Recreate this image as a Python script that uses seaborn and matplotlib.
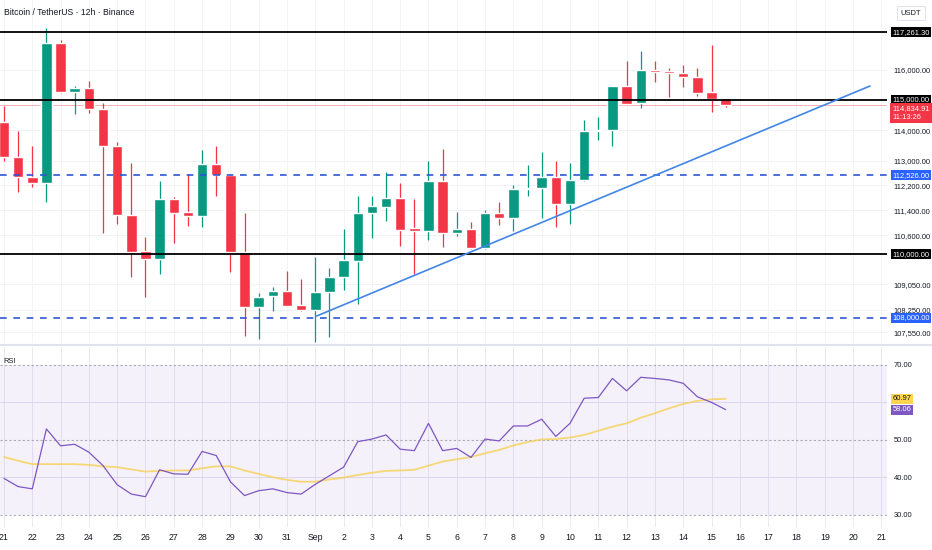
import numpy as np
import pandas as pd
import seaborn as sns
import matplotlib.pyplot as plt
from matplotlib.ticker import FuncFormatter, NullLocator, NullFormatter
from matplotlib.lines import Line2D

# BTC/USDT 12h candles, Aug 21 00:00 -> Sep 15 12:00
opens = [114260, 113140, 112480, 112290, 116900, 115280, 115410, 114690, 113470, 111250,
         110100, 109840, 111750, 111330, 111220, 112910, 112540, 110080, 108330, 108670,
         108830, 108400, 108240, 108800, 109270, 109780, 111300, 111520, 111810, 110830,
         110730, 112330, 110670, 110800, 110180, 111310, 111160, 112070, 112120, 112480,
         111590, 112370, 113970, 114000, 115480, 114890, 116000, 115960, 115910, 115780,
         115260, 115060]
highs = [114800, 113990, 113500, 117400, 117000, 115460, 115630, 114890, 113630, 112920,
         110530, 112350, 111840, 112580, 113350, 113470, 112580, 111320, 108760, 108960,
         109460, 109220, 109900, 109550, 110800, 111850, 111850, 112640, 112290, 111760,
         112980, 113370, 111330, 111010, 111400, 111670, 112220, 112880, 113300, 113000,
         112930, 114330, 114430, 115470, 116300, 116650, 116310, 116050, 116160, 116050,
         116850, 115070]
lows = [112980, 111990, 112150, 111675, 115220, 114540, 114580, 110680, 110970, 109270,
        108660, 109380, 110350, 110890, 110860, 111860, 109420, 107420, 107330, 108200,
        108370, 108210, 107250, 107400, 108870, 108440, 110500, 111050, 110260, 109360,
        110450, 110230, 110570, 110160, 110160, 110920, 110730, 111850, 111160, 110860,
        110970, 112360, 113680, 113500, 114860, 114720, 115590, 115110, 115440, 115140,
        114610, 114760]
closes = [113140, 112480, 112290, 116900, 115280, 115410, 114690, 113470, 111240, 110080,
          109840, 111750, 111300, 111220, 112910, 112540, 110070, 108330, 108650, 108830,
          108380, 108240, 108800, 109270, 109800, 111310, 111530, 111810, 110770, 110740,
          112330, 110670, 110800, 110180, 111310, 111160, 112070, 112110, 112480, 111590,
          112370, 113970, 114020, 115460, 114870, 116000, 115920, 115890, 115780, 115240,
          115030, 114834.91]

rsi = [39.7, 37.5, 36.9, 52.9, 48.4, 48.8, 46.7, 43.1, 38.0, 35.5,
       34.8, 42.0, 40.9, 40.8, 46.9, 45.8, 38.8, 35.1, 36.4, 36.9,
       35.9, 35.5, 38.1, 40.4, 42.7, 49.5, 50.2, 51.3, 47.5, 47.1,
       54.4, 47.1, 47.7, 45.3, 50.2, 49.7, 53.7, 53.7, 55.5, 50.9,
       54.4, 61.1, 61.3, 66.4, 63.1, 66.7, 66.4, 66.0, 65.1, 61.5,
       60.0, 58.06]
rsi_ma = [45.4, 44.4, 43.5, 43.5, 43.5, 43.5, 43.3, 42.9, 42.7, 42.1,
          41.5, 41.7, 41.8, 41.8, 42.4, 42.9, 42.9, 41.8, 40.9, 40.0,
          39.3, 38.8, 38.8, 39.4, 39.9, 40.6, 41.2, 41.7, 41.8, 42.0,
          43.1, 44.2, 44.8, 45.4, 46.4, 47.3, 48.5, 49.4, 50.1, 50.2,
          50.6, 51.3, 52.4, 53.5, 54.4, 55.9, 57.1, 58.4, 59.6, 60.4,
          60.8, 60.97]

day_labels = ['21', '22', '23', '24', '25', '26', '27', '28', '29', '30', '31', 'Sep',
              '2', '3', '4', '5', '6', '7', '8', '9', '10', '11', '12', '13', '14', '15',
              '16', '17', '18', '19', '20', '21']
price_ticks = [116000, 114000, 113000, 112200, 111400, 110600, 109050, 108250, 107550]
rsi_ticks = [30, 40, 50, 70]

black_levels = [117261.30, 115000.00, 110000.00]
blue_levels = [112526.00, 108000.00]
last_price = 114834.91
countdown = '11:13:26'
trend_x = [22.1, 61.2]
trend_y = [108054, 115465]

GREEN = '#089981'
RED = '#F23645'
BLUE = '#2f55d4'
PURPLE = '#7E57C2'
YELLOW = '#F7CF4A'
TXT = '#131722'
FS = 5.4

sns.set_style('white')
plt.rcParams['font.family'] = ['Liberation Sans', 'DejaVu Sans']

df = pd.DataFrame({'i': np.arange(len(opens)), 'open': opens, 'high': highs,
                   'low': lows, 'close': closes, 'rsi': rsi, 'ma': rsi_ma})
df['color'] = np.where(df['close'] >= df['open'], GREEN, RED)

fig = plt.figure(figsize=(9.32, 5.5), dpi=100)
ax = fig.add_axes([0.0, 0.3764, 0.9517, 0.6236])
ax2 = fig.add_axes([0.0, 0.0418, 0.9517, 0.3273], sharex=ax)

# ---- price panel
ax.set_yscale('log')
ax.set_ylim(107216, 118365)
ax.set_xlim(-0.28, 62.4)
for t in price_ticks:
    ax.axhline(t, color='#f0f1f4', lw=0.7, zorder=0)
for k in range(0, 63, 2):
    ax.axvline(k, color='#f4f4f7', lw=0.7, zorder=0)
    ax2.axvline(k, color='#ebe8f4', lw=0.7, zorder=0)

ax.vlines(df['i'], df['low'], df['high'], colors=df['color'], lw=0.9, zorder=3)
body = np.maximum((df['close'] - df['open']).abs(), 45)
ax.bar(df['i'], body, bottom=np.minimum(df['open'], df['close']), width=0.74,
       color=df['color'], zorder=4)

ax.axhline(last_price, color=RED, lw=0.6, alpha=0.45, zorder=2)
for lv in black_levels:
    ax.axhline(lv, color='black', lw=1.3, zorder=5)
for lv in blue_levels:
    ax.axhline(lv, color=BLUE, lw=1.2, ls=(0, (4, 4)), zorder=5)
ax.plot(trend_x, trend_y, color='#4286e8', lw=1.2, zorder=6)

ax.yaxis.tick_right()
ax.set_yticks(price_ticks)
ax.yaxis.set_minor_locator(NullLocator())
ax.yaxis.set_minor_formatter(NullFormatter())
ax.yaxis.set_major_formatter(FuncFormatter(lambda v, p: f'{v:,.2f}'))
ax.tick_params(axis='y', length=0, pad=5, labelsize=FS, labelcolor=TXT)
ax.tick_params(axis='x', length=0, labelbottom=False)
for s in ax.spines.values():
    s.set_visible(False)


def tag(a, y, text, fc, tc):
    a.text(1.006, y, text, transform=a.get_yaxis_transform(), ha='left', va='center',
           fontsize=FS, color=tc, clip_on=False, zorder=20,
           bbox=dict(boxstyle='square,pad=0.2', fc=fc, ec='none'))


for lv in black_levels:
    tag(ax, lv, f'{lv:,.2f}', 'black', 'white')
for lv in blue_levels:
    tag(ax, lv, f'{lv:,.2f}', '#2962FF', 'white')
ax.text(1.006, last_price, f'{last_price:,.2f}\n{countdown}', transform=ax.get_yaxis_transform(),
        ha='left', va='top', fontsize=FS, color='white', linespacing=1.4, clip_on=False,
        zorder=20, bbox=dict(boxstyle='square,pad=0.25', fc=RED, ec='none'))

fig.text(0.004, 0.978, 'Bitcoin / TetherUS · 12h · Binance', fontsize=6.2, color=TXT,
         ha='left', va='center')
fig.text(0.966, 0.976, 'USDT', fontsize=FS, color=TXT, ha='left', va='center',
         bbox=dict(boxstyle='square,pad=0.5', fc='white', ec='#e0e3eb', lw=0.7))

# ---- RSI panel
ax2.set_ylim(26.7, 74.8)
ax2.axhspan(30, 70, color=PURPLE, alpha=0.08, lw=0, zorder=0)
for lv in (60, 40):
    ax2.axhline(lv, color='#dcd6ec', lw=0.7, zorder=1)
for lv in (70, 50, 30):
    ax2.axhline(lv, color='#8a8d96', lw=0.8, ls=(0, (2, 2)), alpha=0.7, zorder=1)
sns.lineplot(data=df, x='i', y='ma', ax=ax2, color=YELLOW, lw=1.3, alpha=0.75, zorder=3)
sns.lineplot(data=df, x='i', y='rsi', ax=ax2, color=PURPLE, lw=0.9, zorder=4)
ax2.set_xlabel('')
ax2.set_ylabel('')
ax2.yaxis.tick_right()
ax2.set_yticks(rsi_ticks)
ax2.yaxis.set_major_formatter(FuncFormatter(lambda v, p: f'{v:.2f}'))
ax2.tick_params(axis='y', length=0, pad=5, labelsize=FS, labelcolor=TXT)
ax2.set_xticks(np.arange(0, 63, 2))
ax2.set_xticklabels(day_labels)
ax2.tick_params(axis='x', length=0, pad=4, labelsize=6.3, labelcolor=TXT)
ax2.set_xlim(-0.28, 62.4)
for s in ax2.spines.values():
    s.set_visible(False)
ax2.text(0.004, 0.92, 'RSI', transform=ax2.transAxes, fontsize=FS, color=TXT,
         ha='left', va='center')
tag(ax2, rsi_ma[-1], f'{rsi_ma[-1]:.2f}', '#FFD54F', TXT)
tag(ax2, rsi[-1], f'{rsi[-1]:.2f}', PURPLE, 'white')

fig.add_artist(Line2D([0, 1], [0.3727, 0.3727], transform=fig.transFigure,
                      color='#e0e3eb', lw=1.5))

fig.savefig('out.png', dpi=100)
